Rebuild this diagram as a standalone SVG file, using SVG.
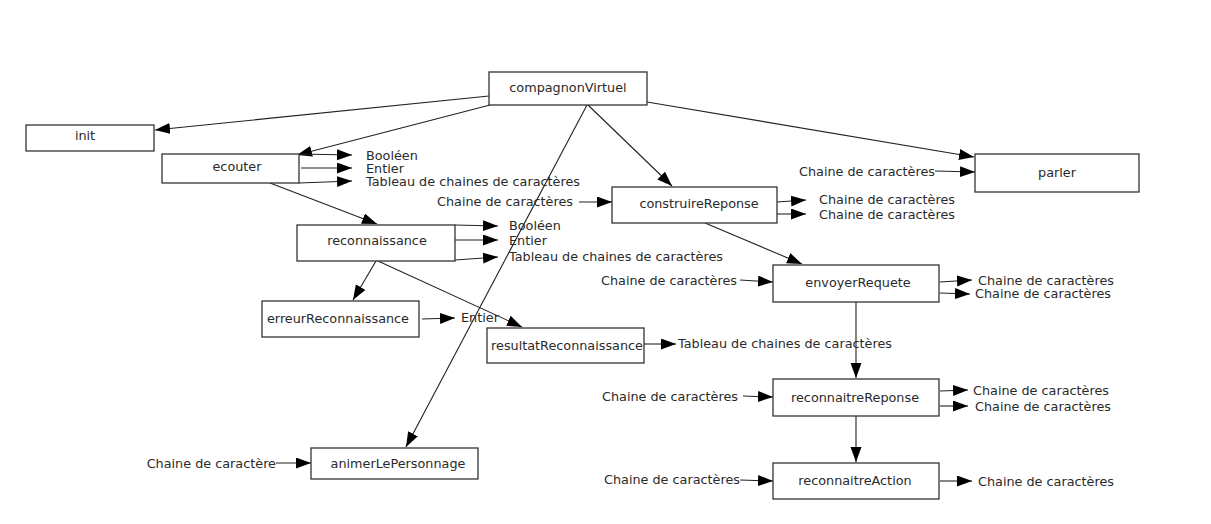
<svg xmlns="http://www.w3.org/2000/svg" width="1211" height="524" viewBox="0 0 1211 524">
<defs>
<marker id="ah" markerUnits="userSpaceOnUse" markerWidth="17" markerHeight="13" refX="15" refY="5.5" orient="auto">
<path d="M0,0 L15,5.5 L0,11 z" fill="#000"/>
</marker>
<style>
.n rect{fill:#fff;stroke:#333;stroke-width:1.3}
.n text{font-family:"DejaVu Sans",sans-serif;font-size:12.8px;fill:#2a2a2a;text-anchor:middle;dominant-baseline:central}
.l{font-family:"DejaVu Sans",sans-serif;font-size:12.8px;fill:#2a2a2a;dominant-baseline:central}
.r{text-anchor:end}
.c line{stroke:#222;stroke-width:1.1;fill:none;marker-end:url(#ah)}
</style>
</defs>
<rect width="1211" height="524" fill="#fff"/>
<g class="c" id="connectors">
<line x1="489" y1="96" x2="155" y2="130"/>
<line x1="490" y1="105" x2="297" y2="155"/>
<line x1="587" y1="105" x2="406" y2="447"/>
<line x1="588" y1="105" x2="672" y2="186"/>
<line x1="647" y1="102" x2="974" y2="157"/>
<line x1="270" y1="183" x2="377" y2="224"/>
<line x1="376" y1="261" x2="353" y2="300"/>
<line x1="378" y1="261" x2="522" y2="327"/>
<line x1="705" y1="223" x2="802" y2="264"/>
<line x1="856" y1="302" x2="856" y2="378"/>
<line x1="856" y1="416" x2="856" y2="462"/>
<line x1="299" y1="154" x2="352" y2="155"/>
<line x1="301" y1="168" x2="352" y2="168"/>
<line x1="299" y1="183" x2="352" y2="181"/>
<line x1="455" y1="225" x2="498" y2="226"/>
<line x1="455" y1="240" x2="498" y2="240"/>
<line x1="455" y1="260" x2="498" y2="257"/>
<line x1="579" y1="202" x2="612" y2="202"/>
<line x1="777" y1="202" x2="806" y2="200"/>
<line x1="777" y1="214" x2="806" y2="214"/>
<line x1="935" y1="171" x2="975" y2="172"/>
<line x1="740" y1="280" x2="773" y2="282"/>
<line x1="940" y1="282" x2="972" y2="280"/>
<line x1="940" y1="293" x2="970" y2="294"/>
<line x1="422" y1="319" x2="455" y2="318"/>
<line x1="644" y1="344" x2="676" y2="344"/>
<line x1="743" y1="396" x2="773" y2="397"/>
<line x1="940" y1="391" x2="968" y2="390"/>
<line x1="940" y1="406" x2="968" y2="406"/>
<line x1="740" y1="480" x2="773" y2="481"/>
<line x1="940" y1="481" x2="972" y2="481"/>
<line x1="276" y1="463" x2="311" y2="463"/>
</g>
<g class="n" id="compagnonVirtuel"><rect x="489" y="72" width="158" height="33"/><text x="568" y="87">compagnonVirtuel</text></g>
<g class="n" id="init"><rect x="26" y="125" width="128" height="26"/><text x="85" y="135">init</text></g>
<g class="n" id="ecouter"><rect x="162" y="154" width="137" height="29"/><text x="237" y="166">ecouter</text></g>
<g class="n" id="reconnaissance"><rect x="297" y="225" width="158" height="36"/><text x="377" y="240">reconnaissance</text></g>
<g class="n" id="erreurReconnaissance"><rect x="262" y="301" width="157" height="36"/><text x="338" y="318">erreurReconnaissance</text></g>
<g class="n" id="resultatReconnaissance"><rect x="487" y="328" width="157" height="35"/><text x="567" y="345">resultatReconnaissance</text></g>
<g class="n" id="animerLePersonnage"><rect x="311" y="448" width="167" height="31"/><text x="398" y="463">animerLePersonnage</text></g>
<g class="n" id="construireReponse"><rect x="612" y="187" width="165" height="36"/><text x="699" y="203">construireReponse</text></g>
<g class="n" id="parler"><rect x="975" y="154" width="164" height="38"/><text x="1057" y="172">parler</text></g>
<g class="n" id="envoyerRequete"><rect x="773" y="265" width="166" height="37"/><text x="858" y="282">envoyerRequete</text></g>
<g class="n" id="reconnaitreReponse"><rect x="773" y="379" width="166" height="37"/><text x="855" y="397">reconnaitreReponse</text></g>
<g class="n" id="reconnaitreAction"><rect x="773" y="463" width="166" height="36"/><text x="855" y="480">reconnaitreAction</text></g>
<g id="labels">
<text class="l" x="366" y="155">Booléen</text>
<text class="l" x="366" y="168">Entier</text>
<text class="l" x="366" y="181">Tableau de chaines de caractères</text>
<text class="l" x="509" y="225">Booléen</text>
<text class="l" x="509" y="240">Entier</text>
<text class="l" x="509" y="256">Tableau de chaines de caractères</text>
<text class="l r" x="573" y="201">Chaine de caractères</text>
<text class="l" x="819" y="199">Chaine de caractères</text>
<text class="l" x="819" y="214">Chaine de caractères</text>
<text class="l r" x="935" y="171">Chaine de caractères</text>
<text class="l r" x="737" y="280">Chaine de caractères</text>
<text class="l" x="978" y="280">Chaine de caractères</text>
<text class="l" x="975" y="293">Chaine de caractères</text>
<text class="l" x="461" y="317">Entier</text>
<text class="l" x="678" y="343">Tableau de chaines de caractères</text>
<text class="l r" x="738" y="396">Chaine de caractères</text>
<text class="l" x="973" y="390">Chaine de caractères</text>
<text class="l" x="975" y="406">Chaine de caractères</text>
<text class="l r" x="740" y="479">Chaine de caractères</text>
<text class="l" x="978" y="481">Chaine de caractères</text>
<text class="l r" x="276" y="463">Chaine de caractère</text>
</g>
</svg>
